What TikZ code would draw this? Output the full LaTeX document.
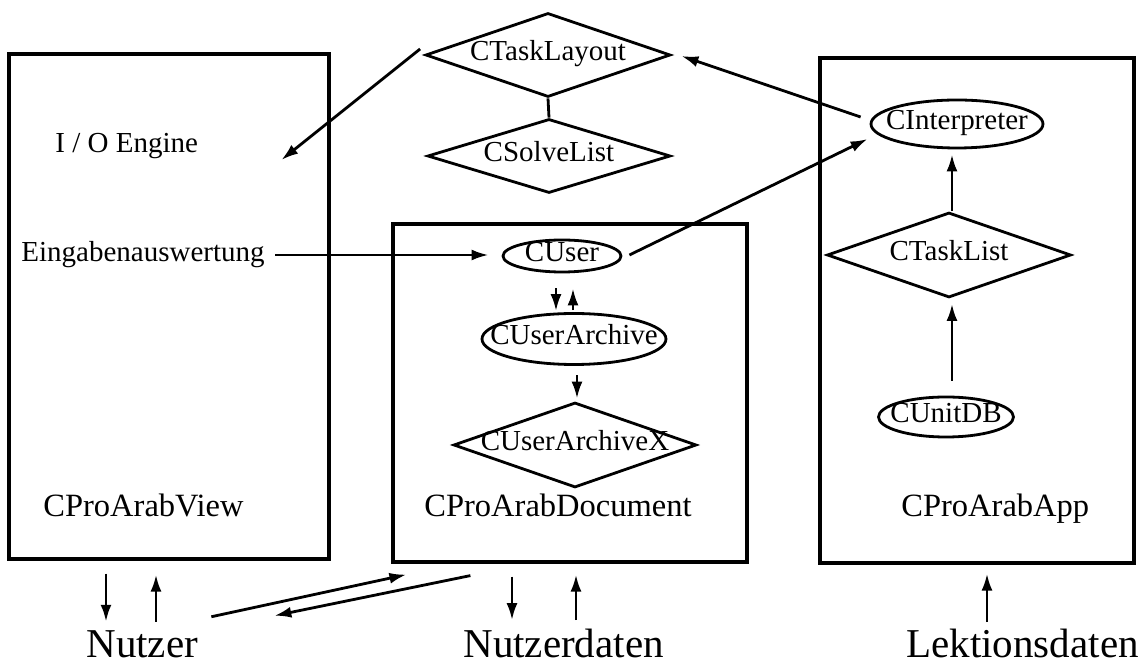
\documentclass[tikz,border=0pt]{standalone}
\usepackage{fontspec}
\setmainfont{Liberation Serif}
\usetikzlibrary{shapes.geometric,arrows.meta}

\begin{document}
\begin{tikzpicture}[x=0.5pt,y=-0.5pt,line width=1.4pt,
  klein/.style={font=\fontsize{14.5pt}{17pt}\selectfont},
  mittel/.style={font=\fontsize{16.25pt}{19pt}\selectfont},
  gross/.style={font=\fontsize{20.5pt}{24pt}\selectfont},
  beschr/.style={inner sep=0pt, anchor=base west},
  modul/.style={draw, line width=1.6pt, inner sep=0pt},
  objekt/.style={ellipse, draw, klein, inner sep=0pt, text height=1.5ex, text depth=.25ex},
  liste/.style={diamond, draw, klein, inner sep=0pt, aspect=1, text height=1.5ex, text depth=.25ex},
  pfeil/.style={-{Latex[length=8.5pt,width=5.5pt]}},
]
\useasboundingbox (0,0) rectangle (1142,667);

% die drei Module
\node[modul, minimum width=160pt, minimum height=252.5pt] (view) at (169,306.5) {};
\node[modul, minimum width=177pt, minimum height=169pt] (doc) at (570,393) {};
\node[modul, minimum width=157pt, minimum height=252.5pt] (app) at (977,310.5) {};

\node[beschr, mittel] (viewname) at (42,517) {CProArabView};
\node[beschr, mittel] (docname) at (423,517) {CProArabDocument};
\node[beschr, mittel] (appname) at (900,517) {CProArabApp};

\node[beschr, klein] (io) at (54,153) {I / O Engine};
\node[beschr, klein] (eing) at (20,262) {Eingabenauswertung};

% Klassen
\node[liste, minimum width=122.5pt, minimum height=42pt] (layout) at (548,55) {\makebox[0pt]{CTaskLayout}};
\node[liste, minimum width=121.5pt, minimum height=37pt] (solve) at (549,156) {\makebox[0pt]{CSolveList}};
\node[liste, minimum width=122pt, minimum height=42.5pt] (tasklist) at (949,255) {\makebox[0pt]{CTaskList}};
\node[liste, minimum width=121.5pt, minimum height=42.5pt] (archivx) at (575,445) {\makebox[0pt]{CUserArchiveX}};

\node[objekt, minimum width=86pt, minimum height=24pt] (interp) at (957,124) {\makebox[0pt]{CInterpreter}};
\node[objekt, minimum width=59pt, minimum height=16pt] (user) at (562,256) {\makebox[0pt]{CUser}};
\node[objekt, minimum width=92pt, minimum height=25.5pt] (archiv) at (574,339) {\makebox[0pt]{CUserArchive}};
\node[objekt, minimum width=67.5pt, minimum height=20pt] (unitdb) at (946,417) {\makebox[0pt]{CUnitDB}};

% Daten unten
\node[beschr, gross] (nutzer) at (85,658) {Nutzer};
\node[beschr, gross] (nutzerdaten) at (462,658) {Nutzerdaten};
\node[beschr, gross] (lektion) at (905,658) {Lektionsdaten};

% Verbindungen
\draw (layout.south) -- (solve.north);
\draw[pfeil] ([xshift=-2pt,yshift=3pt]layout.west) -- ([xshift=41pt,yshift=-3.5pt]io.base east);
\draw[pfeil] ([xshift=-4.5pt,yshift=3.5pt]interp.west) -- ([xshift=4.75pt,yshift=-0.5pt]layout.east);
\draw[pfeil] ([xshift=3.5pt,yshift=0.5pt]user.east) -- ([xshift=-1pt,yshift=-7.5pt]interp.west);
\draw[pfeil, shorten >=6.5pt] ([xshift=4.5pt,yshift=3.5pt]eing.base east) -- ([yshift=3.5pt]eing.base east -| user.west);

\draw[pfeil, shorten <=7.5pt, shorten >=0.5pt] ([xshift=-3pt]user.south) -- ([xshift=-3pt]user.south |- archiv.north);
\draw[pfeil, shorten <=1pt, shorten >=7.5pt] ([xshift=5.5pt]user.south |- archiv.north) -- ([xshift=5.5pt]user.south);
\draw[pfeil, shorten <=4.75pt, shorten >=1.25pt] ([xshift=1.5pt]archiv.south) -- ([xshift=1.5pt]archiv.south |- archivx.north);

\draw[pfeil, shorten >=2.5pt] ([xshift=1.5pt]tasklist.north) -- ([xshift=1.5pt]tasklist.north |- interp.south);
\draw[pfeil, shorten <=7.5pt, shorten >=2.5pt] ([xshift=1.5pt]tasklist.south |- unitdb.north) -- ([xshift=1.5pt]tasklist.south);

\draw[pfeil, shorten <=6.5pt, shorten >=4pt] ([xshift=-31.5pt]view.south) -- ([xshift=-31.5pt]view.south |- nutzer.north);
\draw[pfeil, shorten <=4pt, shorten >=7pt] ([xshift=-6.5pt]view.south |- nutzer.north) -- ([xshift=-6.5pt]view.south);
\draw[pfeil] ([xshift=6pt,yshift=6.5pt]nutzer.north east) -- ([xshift=7.5pt,yshift=-5.5pt]doc.south west);
\draw[pfeil] ([xshift=39.5pt,yshift=-6pt]doc.south west) -- ([xshift=37.5pt,yshift=7pt]nutzer.north east);

\draw[pfeil, shorten <=6.5pt, shorten >=4pt] ([xshift=-29pt]doc.south) -- ([xshift=-29pt]doc.south |- nutzerdaten.north);
\draw[pfeil, shorten <=4pt, shorten >=5.5pt] ([xshift=3pt]doc.south |- nutzerdaten.north) -- ([xshift=3pt]doc.south);
\draw[pfeil, shorten <=3pt, shorten >=4.5pt] ([xshift=5pt]app.south |- lektion.north) -- ([xshift=5pt]app.south);
\end{tikzpicture}
\end{document}
